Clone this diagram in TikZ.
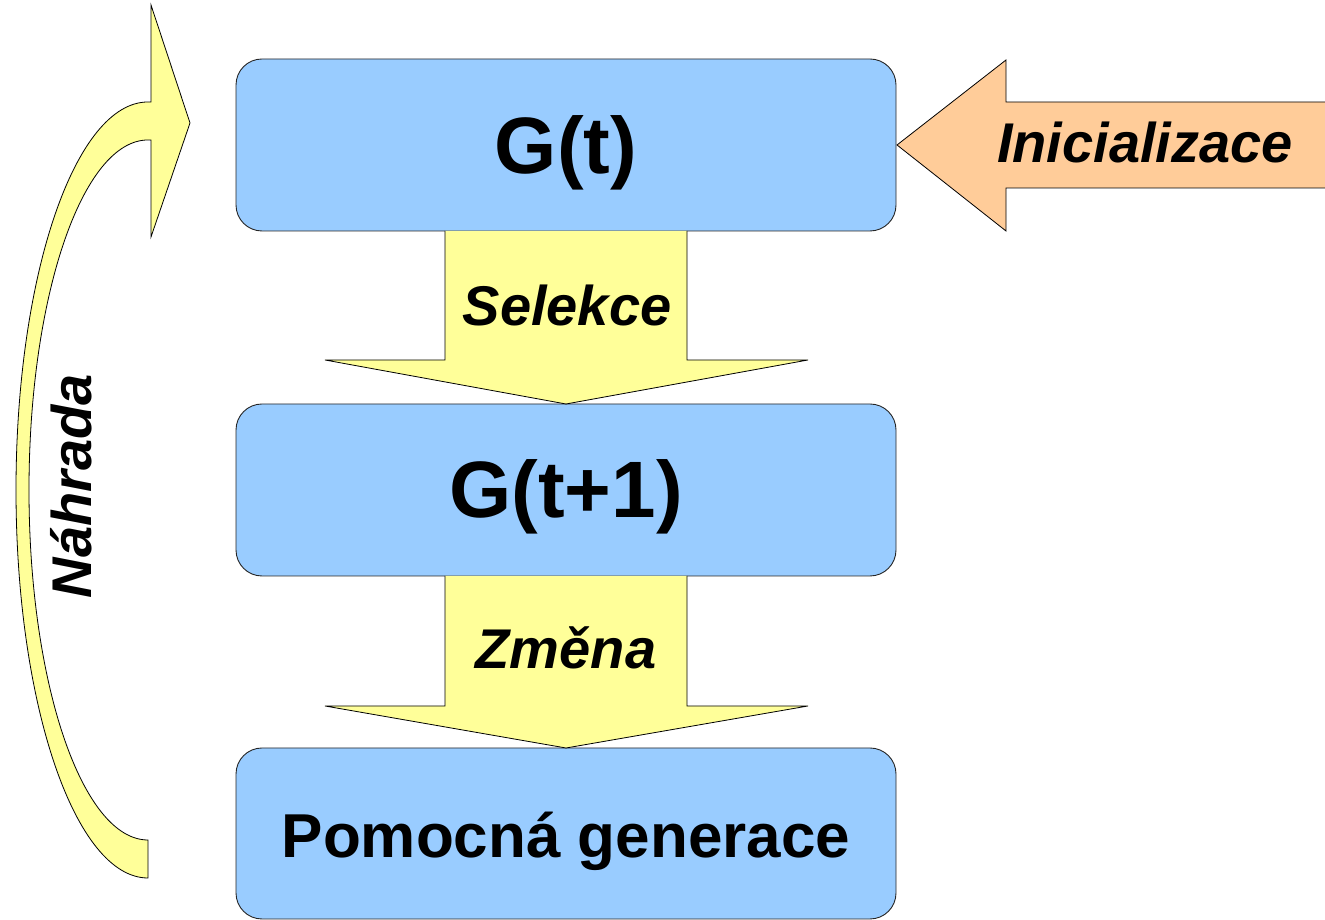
\documentclass[tikz,border=0pt]{standalone}
\usepackage{fontspec}
\setmainfont{Liberation Sans}
\definecolor{boxblue}{HTML}{99CCFF}
\definecolor{arryellow}{HTML}{FFFF99}
\definecolor{arrorange}{HTML}{FFCC99}
\tikzset{
  genbox/.style={draw=black!85, line width=0.9pt, fill=boxblue, rounded corners=26pt,
    minimum width=660pt, minimum height=172pt, inner sep=0pt},
  blockarrow/.style={draw=black, line width=0.8pt, fill=arryellow, line join=miter},
  bigtxt/.style={font=\bfseries\fontsize{80}{96}\selectfont, anchor=base, inner sep=0pt},
  midtxt/.style={font=\bfseries\fontsize{62}{74}\selectfont, anchor=base, inner sep=0pt},
  lbltxt/.style={font=\bfseries\itshape\fontsize{56}{66}\selectfont, anchor=base, inner sep=0pt}
}
\begin{document}
\begin{tikzpicture}[x=1pt,y=1pt]
\clip (0,0) rectangle (1325,920);
\fill[white] (0,0) rectangle (1325,920);
% curved arrow (Nahrada)
\draw[blockarrow] (148,42) arc[start angle=270, end angle=90, x radius=132, y radius=388]
  -- (151,818) -- (151,915) -- (190,797) -- (151,683) -- (151,780) -- (148,780)
  arc[start angle=90, end angle=270, x radius=119, y radius=350] -- cycle;
\node[lbltxt, rotate=90] (nahrada) at (91,434) {Náhrada};
% boxes
\node[genbox] (g0) at (566,775) {};
\node[genbox] (g1) at (566,430) {};
\node[genbox, minimum height=171pt] (g2) at (566,86.5) {};
% down arrows
\draw[blockarrow] (445,689) -- (445,560) -- (325,560) -- (566,516) -- (808,560) -- (687,560) -- (687,689);
\draw[blockarrow] (445,344) -- (445,214) -- (325,214) -- (566,172) -- (808,214) -- (687,214) -- (687,344);
% initialisation arrow
\draw[blockarrow, fill=arrorange] (1330,818) -- (1006,818) -- (1006,860) -- (897,775) -- (1006,689) -- (1006,732) -- (1330,732);
% texts
\node[bigtxt] (t0) at (566,746) {G(t)};
\node[bigtxt] (t1) at (566,402) {G(t+1)};
\node[midtxt] (t2) at (566,62) {Pomocná generace};
\node[lbltxt] (sel) at (567,594) {Selekce};
\node[lbltxt] (zm) at (566,251) {Změna};
\node[lbltxt] (ini) at (1145,757) {Inicializace};
\end{tikzpicture}
\end{document}
